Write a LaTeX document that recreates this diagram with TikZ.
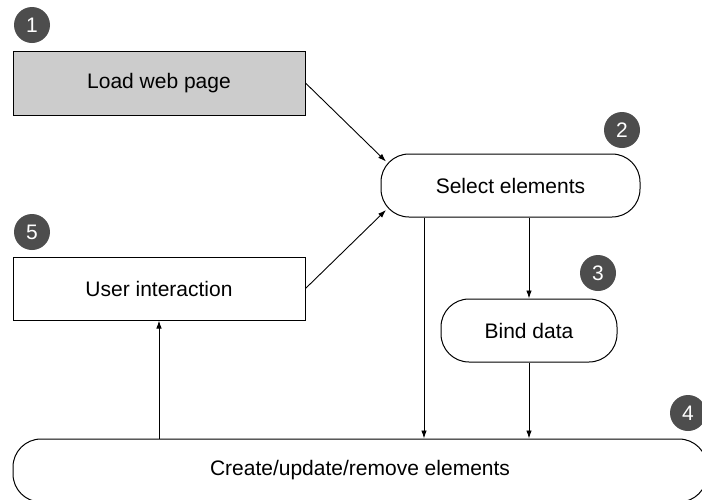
\documentclass[tikz,border=0pt]{standalone}
\usepackage{fontspec}
\setmainfont{Liberation Sans}
\usetikzlibrary{arrows.meta}
\definecolor{badge}{HTML}{4D4D4D}
\definecolor{loadfill}{HTML}{CCCCCC}
\begin{document}
\begin{tikzpicture}[x=1pt,y=-1pt,
  box/.style={draw=black, line width=1pt, inner sep=0pt, font=\fontsize{21}{25}\selectfont},
  sqbox/.style={box, rectangle},
  rbox/.style={box, rectangle, rounded corners=28pt},
  badgec/.style={circle, fill=badge, text=white, inner sep=0pt, minimum size=36pt, font=\fontsize{21}{25}\selectfont},
  arr/.style={-{Latex[length=8pt,width=5.5pt]}, line width=0.9pt}]
\useasboundingbox (0,0) rectangle (702,499);
\begin{scope}
\clip (0,0) rectangle (702,499);
\node[sqbox, fill=loadfill, minimum width=292pt, minimum height=64pt] (load) at (159,83) {Load web page};
\node[sqbox, fill=white, minimum width=292pt, minimum height=63pt] (user) at (159,288.5) {User interaction};
\node[rbox, minimum width=259pt, minimum height=63pt] (select) at (510.5,185.5) {Select elements};
\node[rbox, minimum width=176pt, minimum height=63pt] (bind) at (529,330.5) {Bind data};
\node[rbox, minimum width=694pt, minimum height=63pt] (create) at (360,470.5) {Create/update/remove elements};
\node[badgec] (b1) at (32,25) {1};
\node[badgec] (b2) at (622,130) {2};
\node[badgec] (b3) at (598,273) {3};
\node[badgec] (b4) at (688,413) {4};
\node[badgec] (b5) at (32,232) {5};
\coordinate (s1) at (386,161.5);
\coordinate (s2) at (386,210);
\coordinate (d1) at (424,0);
\draw[arr] (load.east) -- (s1);
\draw[arr] (user.east) -- (s2);
\draw[arr] (select.south -| d1) -- (create.north -| d1);
\draw[arr] (select.south -| bind.north) -- (bind.north);
\draw[arr] (bind.south) -- (create.north -| bind.south);
\draw[arr] (create.north -| user.south) -- (user.south);
\end{scope}
\end{tikzpicture}
\end{document}
